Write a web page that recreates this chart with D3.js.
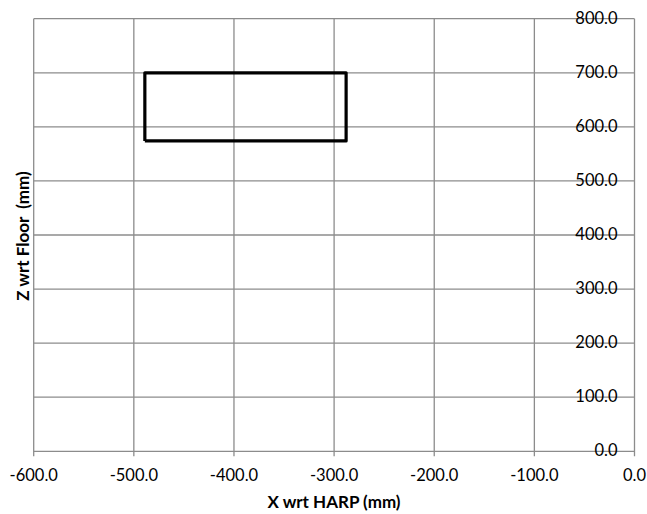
<!DOCTYPE html>
<html>
<head>
<meta charset="utf-8">
<script src="https://cdn.jsdelivr.net/npm/d3@7"></script>
<style>
  body { margin: 0; background: #fff; }
  text { font-family: Lato, "Open Sans", sans-serif; }
</style>
</head>
<body>
<svg id="chart"></svg>
<script>
// outline of the box, X wrt HARP (mm) / Z wrt Floor (mm)
const boxX = [-489, -288, -288, -489, -489];
const boxZ = [574, 574, 700, 700, 574];
const xTicks = [-600, -500, -400, -300, -200, -100, 0];
const zTicks = [0, 100, 200, 300, 400, 500, 600, 700, 800];

const W = 647, H = 514;
const margin = {top: 18.7, right: 12.5, bottom: 62.7, left: 33.7},
  width  = W - margin.left - margin.right,
  height = H - margin.top - margin.bottom;

const svg = d3.select("#chart").attr("width", W).attr("height", H);
const g = svg.append("g")
  .attr("transform", `translate(${margin.left},${margin.top})`);

const x = d3.scaleLinear().domain([-600, 0]).range([0, width]);
const y = d3.scaleLinear().domain([0, 800]).range([height, 0]);
const fmt = d => d.toFixed(1);

// grid
g.append("g").selectAll("line").data(xTicks).enter().append("line")
  .attr("x1", d => x(d)).attr("x2", d => x(d))
  .attr("y1", 0).attr("y2", height + 5)
  .attr("stroke", "#8c8c8c").attr("stroke-width", 1.3);

g.append("g").selectAll("line").data(zTicks).enter().append("line")
  .attr("x1", 0).attr("x2", width)
  .attr("y1", d => y(d)).attr("y2", d => y(d))
  .attr("stroke", "#8c8c8c").attr("stroke-width", 1.3);

// x labels
g.append("g").selectAll("text").data(xTicks).enter().append("text")
  .attr("x", d => x(d)).attr("y", height + 30)
  .attr("text-anchor", "middle")
  .attr("font-size", "16.5px")
  .text(fmt);

// z labels, drawn over the gridlines near the right edge
g.append("g").selectAll("text").data(zTicks).enter().append("text")
  .attr("x", width - 17).attr("y", d => y(d) + 5)
  .attr("text-anchor", "end")
  .attr("font-size", "16.5px")
  .text(fmt);

// box outline
const line = d3.line()
  .x((d, i) => x(boxX[i]))
  .y((d, i) => y(boxZ[i]));

g.append("path")
  .datum(boxX)
  .attr("d", line)
  .attr("fill", "none")
  .attr("stroke", "#000")
  .attr("stroke-width", 3.2)
  .attr("stroke-linejoin", "round");

// axis titles
svg.append("text")
  .attr("x", 334).attr("y", 508)
  .attr("text-anchor", "middle")
  .attr("font-size", "17px").attr("font-weight", "bold")
  .text("X wrt HARP (mm)");

svg.append("text")
  .attr("transform", "translate(29,236) rotate(-90)")
  .attr("text-anchor", "middle")
  .attr("font-size", "17px").attr("font-weight", "bold")
  .style("white-space", "pre")
  .text("Z wrt Floor  (mm)");
</script>
</body>
</html>
